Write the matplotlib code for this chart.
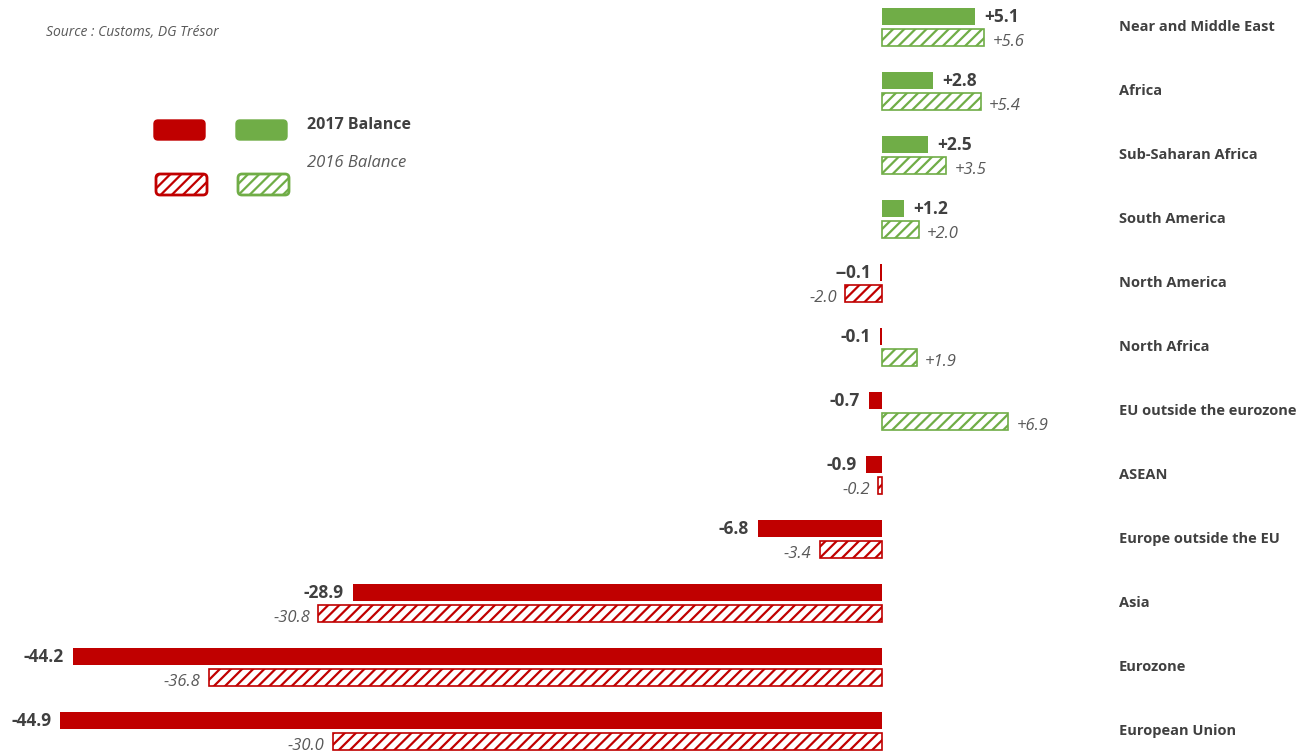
import matplotlib.pyplot as plt
from matplotlib.patches import FancyBboxPatch
import numpy as np

# ==========================================
# DATA
# ==========================================
categories = ["Near and Middle East", "Africa", "Sub-Saharan Africa", "South America",
              "North America", "North Africa", "EU outside the eurozone", "ASEAN",
              "Europe outside the EU", "Asia", "Eurozone", "European Union"]
balance_2017 = [5.1, 2.8, 2.5, 1.2, -0.1, -0.1, -0.7, -0.9, -6.8, -28.9, -44.2, -44.9]
balance_2016 = [5.6, 5.4, 3.5, 2.0, -2.0, 1.9, 6.9, -0.2, -3.4, -30.8, -36.8, -30.0]
labels_2017 = ["+5.1", "+2.8", "+2.5", "+1.2", "--0.1", "-0.1", "-0.7", "-0.9",
               "-6.8", "-28.9", "-44.2", "-44.9"]
labels_2016 = ["+5.6", "+5.4", "+3.5", "+2.0", "-2.0", "+1.9", "+6.9", "-0.2",
               "-3.4", "-30.8", "-36.8", "-30.0"]

# ==========================================
# STYLE
# ==========================================
RED = '#C00000'
GREEN = '#70AD47'
TXT_DARK = '#404040'
TXT_SOFT = '#595959'
FONT = ['Open Sans', 'DejaVu Sans']

plt.rcParams['font.family'] = FONT
plt.rcParams['hatch.linewidth'] = 1.6

W, H = 1298, 752
fig = plt.figure(figsize=(W / 100, H / 100), dpi=100, facecolor='white')
ax = fig.add_axes([0, 0, 1, 1])

# pixel -> data scale (zero line sits at x = 882 px)
px_per_unit = 18.3
zero_px = 882
row_px = 64
first_row_px = 27
ax.set_xlim(-zero_px / px_per_unit, (W - zero_px) / px_per_unit)
ax.set_ylim((H - first_row_px) / row_px, -first_row_px / row_px)
ax.axis('off')

y = np.arange(len(categories))
bar_h = 17 / row_px
off = 10.5 / row_px

col17 = [GREEN if v >= 0 else RED for v in balance_2017]
col16 = [GREEN if v >= 0 else RED for v in balance_2016]

ax.barh(y - off, balance_2017, height=bar_h, color=col17, edgecolor='none')
ax.barh(y + off, balance_2016, height=bar_h, color='white', edgecolor=col16,
        hatch='///', linewidth=1.2)

for i in range(len(categories)):
    v17, v16 = balance_2017[i], balance_2016[i]
    s17 = 1 if v17 >= 0 else -1
    ax.annotate(labels_2017[i], (v17, y[i] - off), xytext=(6.5 * s17, 0),
                textcoords='offset points', ha='left' if s17 > 0 else 'right',
                va='center', fontsize=12.5, fontweight='bold', color=TXT_DARK)
    s16 = 1 if v16 >= 0 else -1
    ax.annotate(labels_2016[i], (v16, y[i] + off), xytext=(6 * s16, -3),
                textcoords='offset points', ha='left' if s16 > 0 else 'right',
                va='center', fontsize=12, fontstyle='italic', color=TXT_SOFT)
    ax.text((1119 - zero_px) / px_per_unit, y[i], categories[i], ha='left',
            va='center', fontsize=10.5, fontweight='bold', color=TXT_DARK)

# ==========================================
# OVERLAY: source + legend (pixel coords)
# ==========================================
ov = fig.add_axes([0, 0, 1, 1], facecolor='none')
ov.set_xlim(0, W)
ov.set_ylim(H, 0)
ov.axis('off')

ov.text(46, 33, "Source : Customs, DG Trésor", fontsize=10, fontstyle='italic',
        color=TXT_SOFT, ha='left', va='center')

for x0, c in [(154, RED), (236, GREEN)]:
    ov.add_patch(FancyBboxPatch((x0, 120), 51, 20, boxstyle='round,pad=0,rounding_size=4',
                                facecolor=c, edgecolor=c, linewidth=1))
for x0, c in [(156, RED), (238, GREEN)]:
    ov.add_patch(FancyBboxPatch((x0, 174), 51, 21, boxstyle='round,pad=0,rounding_size=4',
                                facecolor='white', edgecolor=c, hatch='///', linewidth=2))

ov.text(307, 125, "2017 Balance", fontsize=11.5, fontweight='bold', color=TXT_DARK,
        ha='left', va='center')
ov.text(307, 163, "2016 Balance", fontsize=12, fontstyle='italic', color=TXT_SOFT,
        ha='left', va='center')

plt.savefig('out.png', dpi=100, facecolor='white')
plt.close(fig)
